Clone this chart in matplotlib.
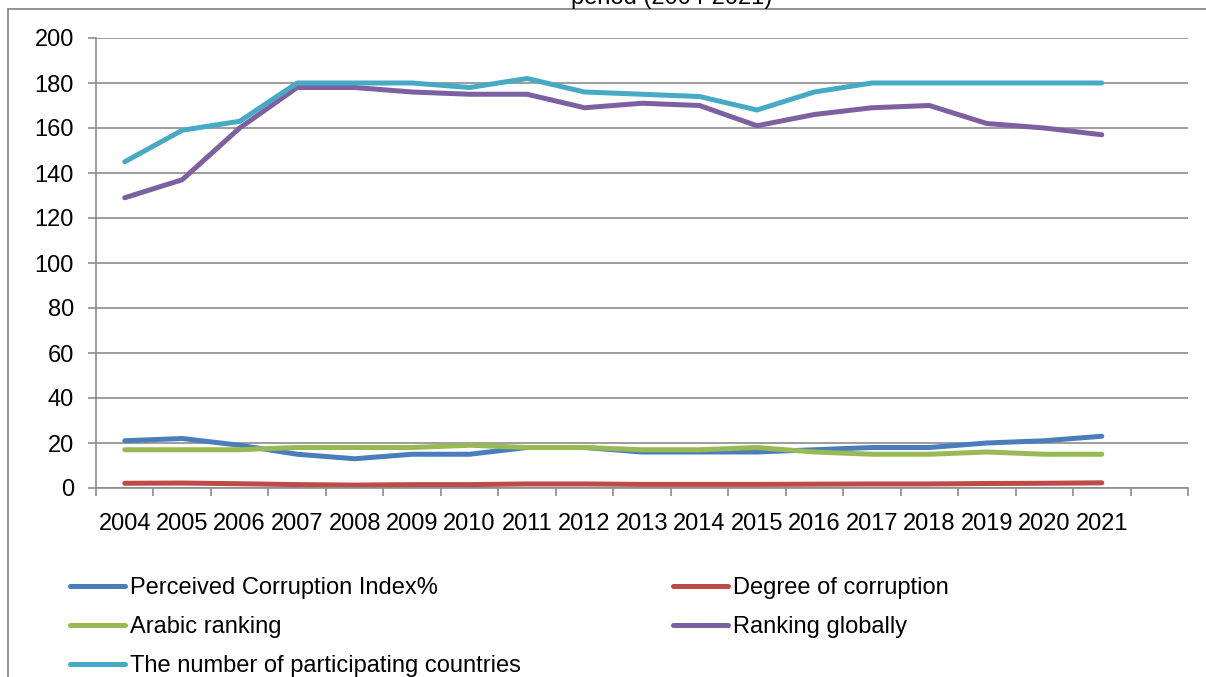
import matplotlib
matplotlib.use("Agg")
import matplotlib.pyplot as plt
from matplotlib.patches import Rectangle
import numpy as np

years = ["2004", "2005", "2006", "2007", "2008", "2009", "2010", "2011", "2012",
         "2013", "2014", "2015", "2016", "2017", "2018", "2019", "2020", "2021"]
perceived_index = [21, 22, 19, 15, 13, 15, 15, 18, 18, 16, 16, 16, 17, 18, 18, 20, 21, 23]
degree_corruption = [2.1, 2.2, 1.9, 1.5, 1.3, 1.5, 1.5, 1.8, 1.8, 1.6, 1.6, 1.6, 1.7, 1.8, 1.8, 2.0, 2.1, 2.3]
arabic_ranking = [17, 17, 17, 18, 18, 18, 19, 18, 18, 17, 17, 18, 16, 15, 15, 16, 15, 15]
ranking_global = [129, 137, 160, 178, 178, 176, 175, 175, 169, 171, 170, 161, 166, 169, 170, 162, 160, 157]
participating = [145, 159, 163, 180, 180, 180, 178, 182, 176, 175, 174, 168, 176, 180, 180, 180, 180, 180]

labels = ["Perceived Corruption Index%", "Degree of corruption", "Arabic ranking",
          "Ranking globally", "The number of participating countries"]
colors = ["#4a7ebb", "#be4b48", "#98b954", "#7d60a0", "#46aac5"]

plt.rcParams['font.family'] = ['Liberation Sans', 'DejaVu Sans']
W, H = 1206, 677
FS = 17
fig = plt.figure(figsize=(W / 100, H / 100), dpi=100)

# outer chart frame
fig.patches.append(Rectangle((8 / W, -0.1), 1.2, 1.1 - 9 / H, transform=fig.transFigure,
                             fill=False, edgecolor="#8a8a8a", linewidth=1.3))

fig.text(672 / W, 1 - 4 / H, "period (2004-2021)", ha="center", va="baseline", fontsize=FS)

ax = fig.add_axes([96 / W, 1 - 488 / H, (1188 - 96) / W, (488 - 38) / H])
x = np.arange(len(years))
series = [perceived_index, degree_corruption, arabic_ranking, ranking_global, participating]
lines = []
for s, c, l in zip(series, colors, labels):
    ln, = ax.plot(x, s, color=c, linewidth=3.6, solid_capstyle="round",
                  solid_joinstyle="round", label=l)
    lines.append(ln)

ax.set_xlim(-0.5, len(years) + 0.5)
ax.set_ylim(0, 200)
ax.set_yticks(np.arange(0, 201, 20))
ax.yaxis.grid(True, color="#8c8c8c", linewidth=1.2)
ax.set_axisbelow(True)
ax.set_xticks(np.arange(-0.5, len(years) + 1, 1.0))
ax.set_xticklabels([])
ax.set_xticks(x, minor=True)
ax.set_xticklabels(years, minor=True)
ax.tick_params(axis="x", which="major", length=6, width=1.2, color="#8c8c8c", direction="out")
ax.tick_params(axis="x", which="minor", length=0, pad=18, labelsize=FS)
ax.tick_params(axis="y", length=6, width=1.2, color="#8c8c8c", direction="out", pad=10, labelsize=FS)
for sp in ["top", "right"]:
    ax.spines[sp].set_visible(False)
for sp in ["left", "bottom"]:
    ax.spines[sp].set_color("#8c8c8c")
    ax.spines[sp].set_linewidth(1.2)

common = dict(frameon=False, fontsize=FS, handlelength=2.35, handletextpad=0.2,
              labelspacing=0.72, borderaxespad=0, borderpad=0, loc="upper left")
fig.legend([lines[0], lines[2], lines[4]], [labels[0], labels[2], labels[4]],
           bbox_to_anchor=(70 / W, 1 - 577 / H), **common)
fig.legend([lines[1], lines[3]], [labels[1], labels[3]],
           bbox_to_anchor=(673 / W, 1 - 577 / H), **common)

fig.savefig("out.png", dpi=100)
